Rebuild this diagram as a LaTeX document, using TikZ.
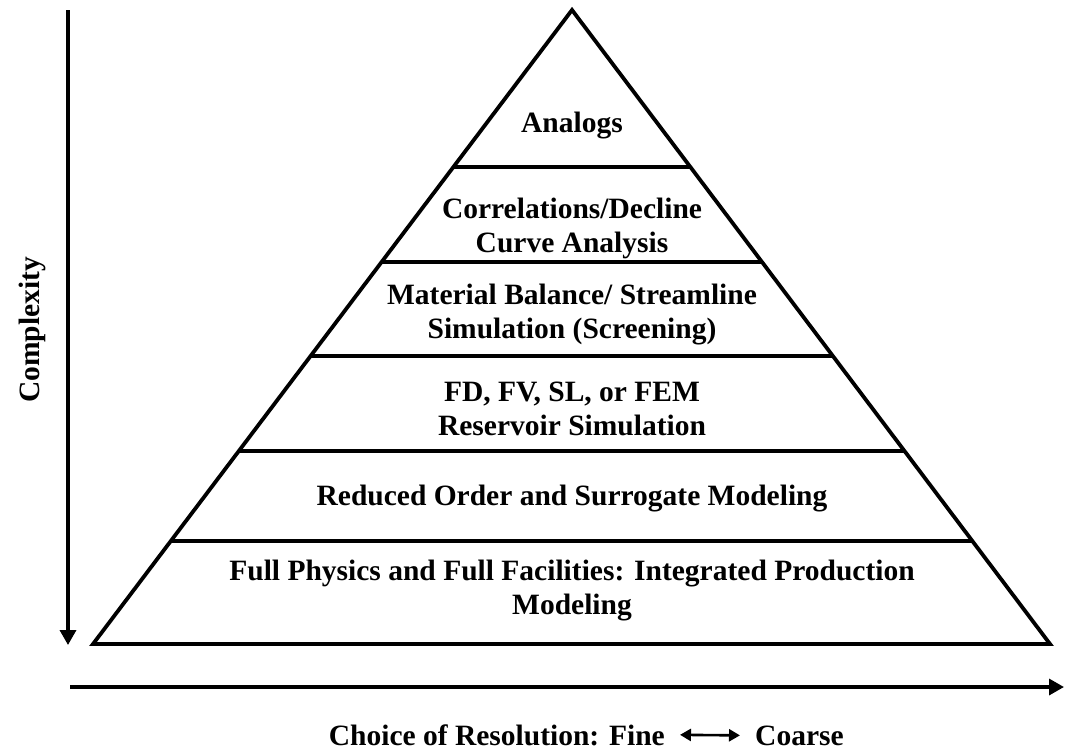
\documentclass[tikz,border=0pt]{standalone}
\usepackage{fontspec}
\setmainfont{Liberation Serif}
\usetikzlibrary{calc,arrows.meta}
\begin{document}
\begin{tikzpicture}[x=1pt,y=1pt,
  edge/.style={line width=3.8pt},
  axis/.style={line width=3.4pt,-{Triangle[length=15pt,width=16pt]}},
  lvl/.style={font=\fontsize{29.5}{34}\selectfont\bfseries,align=center,inner sep=0pt},
  lbl/.style={font=\fontsize{29.5}{34}\selectfont\bfseries,inner sep=0pt}]
\useasboundingbox (0,0) rectangle (1065,-753);
\coordinate (apex) at (572,-10);
\coordinate (bl) at (93,-644);
\coordinate (br) at (1050,-644);
\draw[edge,line join=miter] (bl) -- (apex) -- (br) -- cycle;
\foreach \t [count=\i] in {0.7524,0.6025,0.4543,0.3044,0.1625}{
  \draw[edge] ($(bl)!\t!(apex)$) -- ($(br)!\t!(apex)$);
}
\node[lvl] (l1) at (572,-126) {Analogs};
\node[lvl] (l2) at (572,-228) {Correlations/Decline\\Curve Analysis};
\node[lvl] (l3) at (572,-315) {Material Balance/ Streamline\\Simulation (Screening)};
\node[lvl] (l4) at (572,-409) {FD, FV, SL, or FEM\\Reservoir Simulation};
\node[lvl] (l5) at (572,-499) {Reduced Order and Surrogate Modeling};
\node[lvl] (l6) at (572,-591) {Full Physics and Full Facilities: Integrated Production\\Modeling};
% axes
\coordinate (vtop) at (68,-10);
\coordinate (vbot) at (68,-645);
\draw[axis] (vtop) -- (vbot);
\coordinate (hl) at (70,-687);
\coordinate (hr) at (1064,-687);
\draw[axis] (hl) -- (hr);
\node[lbl,rotate=90] (cx) at (32,-330) {Complexity};
\node[lbl,anchor=base east] (fine) at (665,-745) {Choice of Resolution: Fine};
\node[lbl,anchor=base west] (coarse) at (755,-745) {Coarse};
\draw[line width=2.6pt,{Triangle[length=11pt,width=12pt]}-{Triangle[length=11pt,width=12pt]}]
  ([xshift=15pt]fine.east) -- ([xshift=-15pt]coarse.west);
\end{tikzpicture}
\end{document}
